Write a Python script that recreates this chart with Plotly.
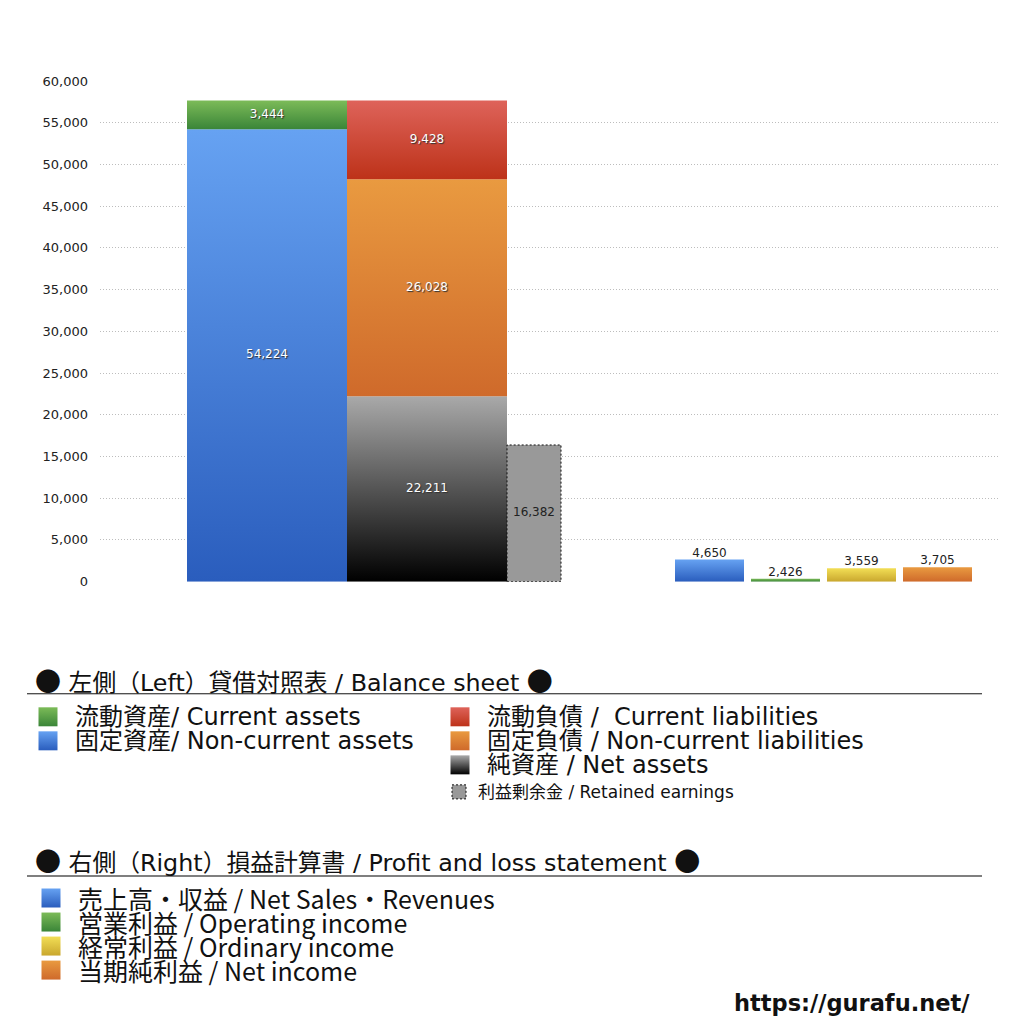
import plotly.graph_objects as go

# 左側: 貸借対照表 (balance sheet)
bs_asset_names = ["固定資産", "流動資産"]
bs_assets = [54224, 3444]
bs_liab_names = ["純資産", "固定負債", "流動負債"]
bs_liabilities = [22211, 26028, 9428]
retained_earnings = 16382

# 右側: 損益計算書 (P/L) - printed values and the bar heights as drawn in the picture
pl_names = ["売上高・収益", "営業利益", "経常利益", "当期純利益"]
pl_values = [4650, 2426, 3559, 3705]
pl_bar_heights = [2650, 350, 1600, 1720]

y_ticks = [0, 5000, 10000, 15000, 20000, 25000, 30000, 35000, 40000, 45000, 50000, 55000, 60000]

FONT = "DejaVu Sans, Noto Sans CJK JP"
CJK = "Noto Sans CJK JP"

# page placement: figure size and how the page maps it on screen
W, H = 1008, 1008
OX, OY, SY = 8, 16, 0.984


def fx(xs):  # screen px -> figure px
    return xs - OX


def fy(ys):
    return (ys - OY) / SY


# gradient colours (bottom, top)
GRAD = {
    "blue": ("#2a5dbd", "#66a2f2"),
    "green": ("#3a8538", "#7cbb58"),
    "red": ("#bd3219", "#de635a"),
    "orange": ("#cf6a2b", "#e99a40"),
    "black": ("#000000", "#a9a9a9"),
    "yellow": ("#c9a72e", "#f2de55"),
}

# slots along the x axis (pixels from the plot's left edge)
BS_X0, BS_W, RE_W = 87, 160, 54
PL_X0, PL_W, PL_STEP = 575, 69, 76


def seg(x0, x1, base, height, colors):
    bottom, top = colors
    return go.Scatter(
        x=[x0, x1, x1, x0, x0],
        y=[base, base, base + height, base + height, base],
        mode="lines", fill="toself", line=dict(width=0),
        fillgradient=dict(type="vertical", colorscale=[[0, bottom], [1, top]]),
        hoverinfo="skip", showlegend=False,
    )


def stack(x0, w, values, colors):
    traces, base = [], 0
    for v, c in zip(values, colors):
        traces.append(seg(x0, x0 + w, base, v, GRAD[c]))
        base += v
    return traces


def mids(values):
    out, base = [], 0
    for v in values:
        out.append(base + v / 2)
        base += v
    return out


fig = go.Figure()
white_font = dict(family=FONT, size=12, color="white", shadow="1px 1px 1px #333")
dark_font = dict(family=FONT, size=12, color="#222")

# assets
for t in stack(BS_X0, BS_W, bs_assets, ["blue", "green"]):
    fig.add_trace(t)
fig.add_trace(go.Scatter(x=[BS_X0 + BS_W / 2] * len(bs_assets), y=mids(bs_assets),
                         mode="text", text=[f"{v:,}" for v in bs_assets],
                         textfont=white_font, hoverinfo="skip"))

# liabilities + net assets
x_l = BS_X0 + BS_W
for t in stack(x_l, BS_W, bs_liabilities, ["black", "orange", "red"]):
    fig.add_trace(t)
fig.add_trace(go.Scatter(x=[x_l + BS_W / 2] * len(bs_liabilities), y=mids(bs_liabilities),
                         mode="text", text=[f"{v:,}" for v in bs_liabilities],
                         textfont=white_font, hoverinfo="skip"))

# retained earnings
x_r = x_l + BS_W
fig.add_trace(go.Scatter(
    x=[x_r, x_r + RE_W, x_r + RE_W, x_r, x_r],
    y=[0, 0, retained_earnings, retained_earnings, 0],
    mode="lines", fill="toself", fillcolor="#999999",
    line=dict(color="#111", width=1, dash="2px,2px"), hoverinfo="skip"))
fig.add_trace(go.Scatter(x=[x_r + RE_W / 2], y=[retained_earnings / 2], mode="text",
                         text=[f"{retained_earnings:,}"], textfont=dark_font, hoverinfo="skip"))

# profit and loss
pl_colors = ["blue", "green", "yellow", "orange"]
pl_x = [PL_X0 + i * PL_STEP for i in range(len(pl_values))]
for x0, h, c in zip(pl_x, pl_bar_heights, pl_colors):
    fig.add_trace(seg(x0, x0 + PL_W, 0, h, GRAD[c]))
fig.add_trace(go.Scatter(x=[x + PL_W / 2 for x in pl_x], y=pl_bar_heights, mode="text",
                         text=[f"{v:,}" for v in pl_values], textposition="top center",
                         textfont=dark_font, hoverinfo="skip"))

# ---- legend block, on a full-page axis whose units are screen pixels (x2/y2)
DOT = f"<span style='font-family:{CJK};font-size:26px'>●</span>"
head = dict(family=FONT, size=23.8, color="#111")
big = dict(family=FONT, size=24, color="#111")
narrow = dict(family=CJK, size=25, color="#111")
notes = [
    (33, 680, f"{DOT} 左側（Left）貸借対照表 / Balance sheet {DOT}", head),
    (73, 717, "流動資産/ Current assets", big),
    (73, 741, "固定資産/ Non-current assets", big),
    (485, 717, "流動負債 /  Current liabilities", big),
    (485, 741, "固定負債 / Non-current liabilities", big),
    (485, 765, "純資産 / Net assets", big),
    (476, 792, "利益剰余金 / Retained earnings", dict(family=FONT, size=17, color="#111")),
    (33, 860, f"{DOT} 右側（Right）損益計算書 / Profit and loss statement {DOT}", head),
    (76, 898, "売上高・収益 / Net Sales・Revenues", narrow),
    (76, 922, "営業利益 / Operating income", narrow),
    (76, 946, "経常利益 / Ordinary income", narrow),
    (76, 970, "当期純利益 / Net income", narrow),
]
for x, y, txt, f in notes:
    fig.add_annotation(x=x, y=y, xref="x2", yref="y2", text=txt, showarrow=False,
                       xanchor="left", yanchor="middle", font=f)
fig.add_annotation(x=972, y=1003, xref="x2", yref="y2", text="<b>https://gurafu.net/</b>",
                   showarrow=False, xanchor="right", yanchor="middle",
                   font=dict(family="DejaVu Sans", size=22.5, color="#111"))

swatches = [
    (48, 717, "green"), (48, 741, "blue"),
    (460, 717, "red"), (460, 741, "orange"), (460, 765, "black"),
    (51, 898, "blue"), (51, 922, "green"), (51, 946, "yellow"), (51, 970, "orange"),
]
fig.add_trace(go.Scatter(
    x=[s[0] for s in swatches], y=[s[1] for s in swatches], xaxis="x2", yaxis="y2",
    mode="markers", hoverinfo="skip",
    marker=dict(symbol="square", size=19, line=dict(width=0),
                color=[GRAD[s[2]][1] for s in swatches],
                gradient=dict(type="vertical", color=[GRAD[s[2]][0] for s in swatches])),
))

fig.add_shape(type="rect", xref="x2", yref="y2", x0=452, x1=466, y0=785, y1=799,
              fillcolor="#999999", line=dict(color="#111", width=1, dash="2px,2px"))
fig.add_shape(type="line", xref="x2", yref="y2", x0=27, x1=982, y0=694, y1=694,
              line=dict(color="#111", width=1))
fig.add_shape(type="line", xref="x2", yref="y2", x0=27, x1=982, y0=876, y1=876,
              line=dict(color="#555", width=1.5))

fig.update_layout(
    width=W, height=H, autosize=False,
    margin=dict(l=0, r=0, t=0, b=0),
    paper_bgcolor="white", plot_bgcolor="rgba(0,0,0,0)",
    showlegend=False,
    font=dict(family=FONT, color="#222"),
    xaxis=dict(domain=[fx(100) / W, fx(1000) / W], range=[0, 900], visible=False),
    yaxis=dict(domain=[1 - fy(582) / H, 1 - fy(82) / H], range=[0, 60000],
               tickvals=y_ticks, tickformat=",", showgrid=True, gridcolor="#bdbdbd",
               griddash="1px,2px", gridwidth=1, zeroline=False, showline=False, ticks="",
               ticklabelstandoff=11,
               tickfont=dict(family="DejaVu Sans", size=13, color="#222")),
    xaxis2=dict(domain=[0, 1], range=[OX, W + OX], visible=False, anchor="y2"),
    yaxis2=dict(domain=[0, 1], range=[SY * H + OY, OY], visible=False, anchor="x2"),
)

fig.write_html("out.html")
